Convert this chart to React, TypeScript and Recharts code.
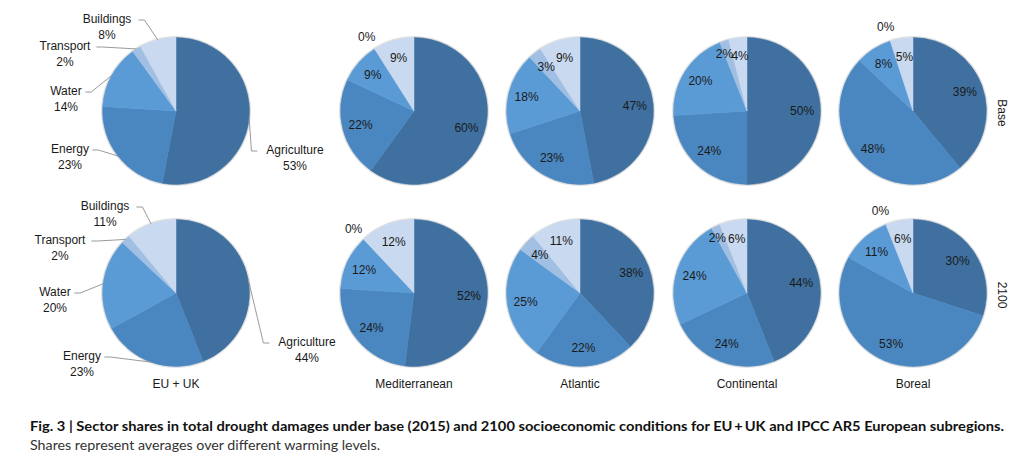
import React from 'react';
import { PieChart, Pie, Cell } from 'recharts';

// Sector shares (%) of total drought damages, read clockwise from 12 o'clock.
const sectors = ['Agriculture', 'Energy', 'Water', 'Transport', 'Buildings'];
const sectorColors = ['#3f70a0', '#4a87c0', '#5a9bd6', '#a0bfe2', '#c9d9ef'];
const regions = ['EU + UK', 'Mediterranean', 'Atlantic', 'Continental', 'Boreal'];
const rowLabels = ['Base', '2100'];

const euBase = [53, 23, 14, 2, 8];
const medBase = [60, 22, 9, 0, 9];
const atlBase = [47, 23, 18, 3, 9];
const conBase = [50, 24, 20, 2, 4];
const borBase = [39, 48, 8, 0, 5];

const eu2100 = [44, 23, 20, 2, 11];
const med2100 = [52, 24, 12, 0, 12];
const atl2100 = [38, 22, 25, 4, 11];
const con2100 = [44, 24, 24, 2, 6];
const bor2100 = [30, 53, 11, 0, 6];

const captionBold =
  'Fig. 3 | Sector shares in total drought damages under base (2015) and 2100 socioeconomic conditions for EU\u2009+\u2009UK and IPCC AR5 European subregions.';
const captionText = 'Shares represent averages over different warming levels.';

// layout
const W = 1024;
const H = 468;
const R = 73.5;
const COL_X = [176, 414, 580, 747, 913];
const ROW_Y = [111, 293];
const FONT = "'Liberation Sans', Arial, Helvetica, sans-serif";
const RAD = Math.PI / 180;

// hand-placed outside labels for the EU + UK pies (offset of label centre from pie centre)
const euLabelOffsets = [
  [[119, 47], [-106, 46], [-110, -12], [-111, -57], [-69, -84]],
  [[131, 57], [-94, 71], [-121, 7], [-116, -45], [-71, -79]],
];

const rows = [
  [euBase, medBase, atlBase, conBase, borBase],
  [eu2100, med2100, atl2100, con2100, bor2100],
];

const toData = (vals: number[]) => vals.map((v, i) => ({ name: sectors[i], value: v }));

function textWidth(s: string) {
  // rough Arial width at 12px
  return s.length * 6.1;
}

function innerLabel(props: any) {
  const { cx, cy, midAngle, outerRadius, value } = props;
  // empty slices get their label just outside, tiny ones a bit further out
  const k = value === 0 ? 1.2 : value <= 2 ? 0.82 : 0.75;
  const nudge = value > 0 && value <= 2 ? -4 : 0;
  const x = cx + outerRadius * k * Math.cos(-midAngle * RAD) + nudge;
  const y = cy + outerRadius * k * Math.sin(-midAngle * RAD);
  return (
    <text x={x} y={y} textAnchor="middle" dominantBaseline="central" fontSize={12}
      fontFamily={FONT} fill="#1a1a1a">
      {`${value}%`}
    </text>
  );
}

function makeEuLabel(row: number) {
  return (props: any) => {
    const { cx, cy, midAngle, outerRadius, value, index, name } = props;
    const [dx, dy] = euLabelOffsets[row][index];
    const lx = cx + dx;
    const ly = cy + dy;
    const side = dx < 0 ? 1 : -1;
    const ex = cx + outerRadius * Math.cos(-midAngle * RAD);
    const ey = cy + outerRadius * Math.sin(-midAngle * RAD);
    const endX = lx + side * (textWidth(name) / 2 + 4);
    const endY = ly - 7;
    const elbowX = endX + side * 6;
    return (
      <g>
        <polyline points={`${ex},${ey} ${elbowX},${endY} ${endX},${endY}`} fill="none"
          stroke="#9a9a9a" strokeWidth={1} />
        <text x={lx} y={ly - 8} textAnchor="middle" dominantBaseline="central" fontSize={12}
          fontFamily={FONT} fill="#1a1a1a">{name}</text>
        <text x={lx} y={ly + 8} textAnchor="middle" dominantBaseline="central" fontSize={12}
          fontFamily={FONT} fill="#1a1a1a">{`${value}%`}</text>
      </g>
    );
  };
}

export default function App() {
  return (
    <div style={{ position: 'relative', width: W, height: H, background: '#fff' }}>
      <style>{'body{margin:0;background:#fff}'}</style>
      <PieChart width={W} height={H} margin={{ top: 0, right: 0, bottom: 0, left: 0 }}>
        {rows.map((vals, r) =>
          vals.map((v, c) => (
            <Pie
              key={`ring-${r}-${c}`}
              data={[{ value: 1 }]}
              dataKey="value"
              cx={COL_X[c]}
              cy={ROW_Y[r]}
              outerRadius={R + 1.5}
              startAngle={90}
              endAngle={-270}
              fill="#e2e2e2"
              stroke="none"
              isAnimationActive={false}
              label={false}
              labelLine={false}
            />
          ))
        )}
        {rows.map((vals, r) =>
          vals.map((v, c) => (
            <Pie
              key={`pie-${r}-${c}`}
              data={toData(v)}
              dataKey="value"
              nameKey="name"
              cx={COL_X[c]}
              cy={ROW_Y[r]}
              outerRadius={R}
              startAngle={90}
              endAngle={-270}
              isAnimationActive={false}
              labelLine={false}
              label={c === 0 ? makeEuLabel(r) : innerLabel}
            >
              {v.map((_, i) => (
                <Cell key={i} fill={sectorColors[i]} stroke={sectorColors[i]} strokeWidth={0.5} />
              ))}
            </Pie>
          ))
        )}
      </PieChart>
      <svg width={W} height={H} style={{ position: 'absolute', left: 0, top: 0, pointerEvents: 'none' }}>
        {regions.map((name, c) => (
          <text key={name} x={COL_X[c]} y={384} textAnchor="middle" dominantBaseline="central"
            fontSize={12} fontFamily={FONT} fill="#1a1a1a">{name}</text>
        ))}
        {rowLabels.map((name, r) => (
          <text key={name} x={0} y={0} transform={`translate(1002, ${ROW_Y[r] + 2}) rotate(90)`}
            textAnchor="middle" dominantBaseline="central" fontSize={12} fontFamily={FONT}
            fill="#1a1a1a">{name}</text>
        ))}
        <text x={30} y={431} fontSize={14} fontWeight="bold" fontFamily="Lato, 'Open Sans', sans-serif"
          fill="#111" textLength={974} lengthAdjust="spacingAndGlyphs">{captionBold}</text>
        <text x={30} y={450} fontSize={14} fontFamily="Lato, 'Open Sans', sans-serif"
          fill="#333" textLength={350} lengthAdjust="spacingAndGlyphs">{captionText}</text>
      </svg>
    </div>
  );
}
